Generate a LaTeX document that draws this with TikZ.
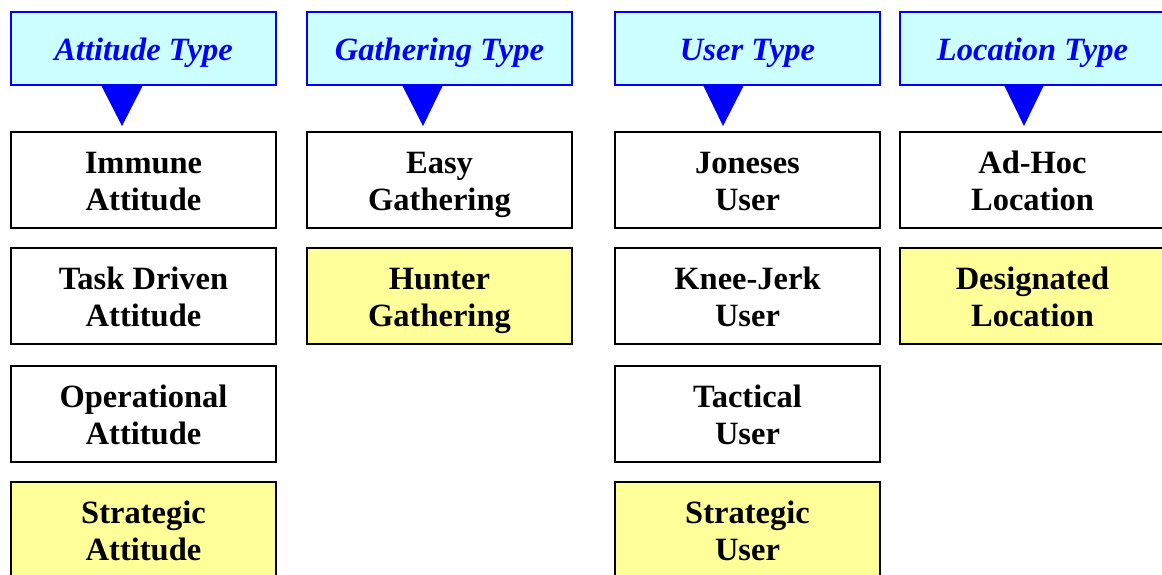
\documentclass[tikz,border=0pt]{standalone}
\usepackage{fontspec}
\setmainfont{Liberation Serif}
\definecolor{hdrfill}{HTML}{CCFFFF}
\definecolor{hdrblue}{HTML}{0000FF}
\definecolor{yel}{HTML}{FFFF99}
\begin{document}
\begin{tikzpicture}[x=1pt,y=-1pt,
  hdr/.style={draw=hdrblue, line width=2.6pt, fill=hdrfill, minimum width=265pt, minimum height=73pt,
    anchor=north west, inner sep=0pt, outer sep=0pt,
    font=\fontsize{32.5}{37}\selectfont\bfseries\itshape, text=hdrblue, text height=23pt, text depth=0pt},
  item/.style={draw=black, line width=2pt, fill=white, minimum width=265pt, minimum height=96pt,
    anchor=north west, inner sep=0pt, outer sep=0pt, align=center,
    font=\fontsize{32.5}{37}\selectfont\bfseries, text height=60pt, text depth=0pt},
  hi/.style={item, fill=yel},
  tri/.style={fill=hdrblue}]
\useasboundingbox (0,0) rectangle (1162,574);
\clip (0,0) rectangle (1162,574);

% headers
\node[hdr] (hA) at (11,12) {Attitude Type};
\node[hdr] (hG) at (307,12) {Gathering Type};
\node[hdr] (hU) at (615,12) {User Type};
\node[hdr] (hL) at (900,12) {Location Type};

% pointers
\fill[tri] (101,85) -- (143,85) -- (122,126) -- cycle;
\fill[tri] (402,85) -- (443,85) -- (423,126) -- cycle;
\fill[tri] (703,85) -- (744,85) -- (723,126) -- cycle;
\fill[tri] (1004,85) -- (1044,85) -- (1024,126) -- cycle;

% Attitude column
\node[item] (a1) at (11,132) {Immune\\Attitude};
\node[item] (a2) at (11,248) {Task Driven\\Attitude};
\node[item] (a3) at (11,366) {Operational\\Attitude};
\node[hi]   (a4) at (11,482) {Strategic\\Attitude};

% Gathering column
\node[item] (g1) at (307,132) {Easy\\Gathering};
\node[hi]   (g2) at (307,248) {Hunter\\Gathering};

% User column
\node[item] (u1) at (615,132) {Joneses\\User};
\node[item] (u2) at (615,248) {Knee-Jerk\\User};
\node[item] (u3) at (615,366) {Tactical\\User};
\node[hi]   (u4) at (615,482) {Strategic\\User};

% Location column
\node[item] (l1) at (900,132) {Ad-Hoc\\Location};
\node[hi]   (l2) at (900,248) {Designated\\Location};
\end{tikzpicture}
\end{document}
